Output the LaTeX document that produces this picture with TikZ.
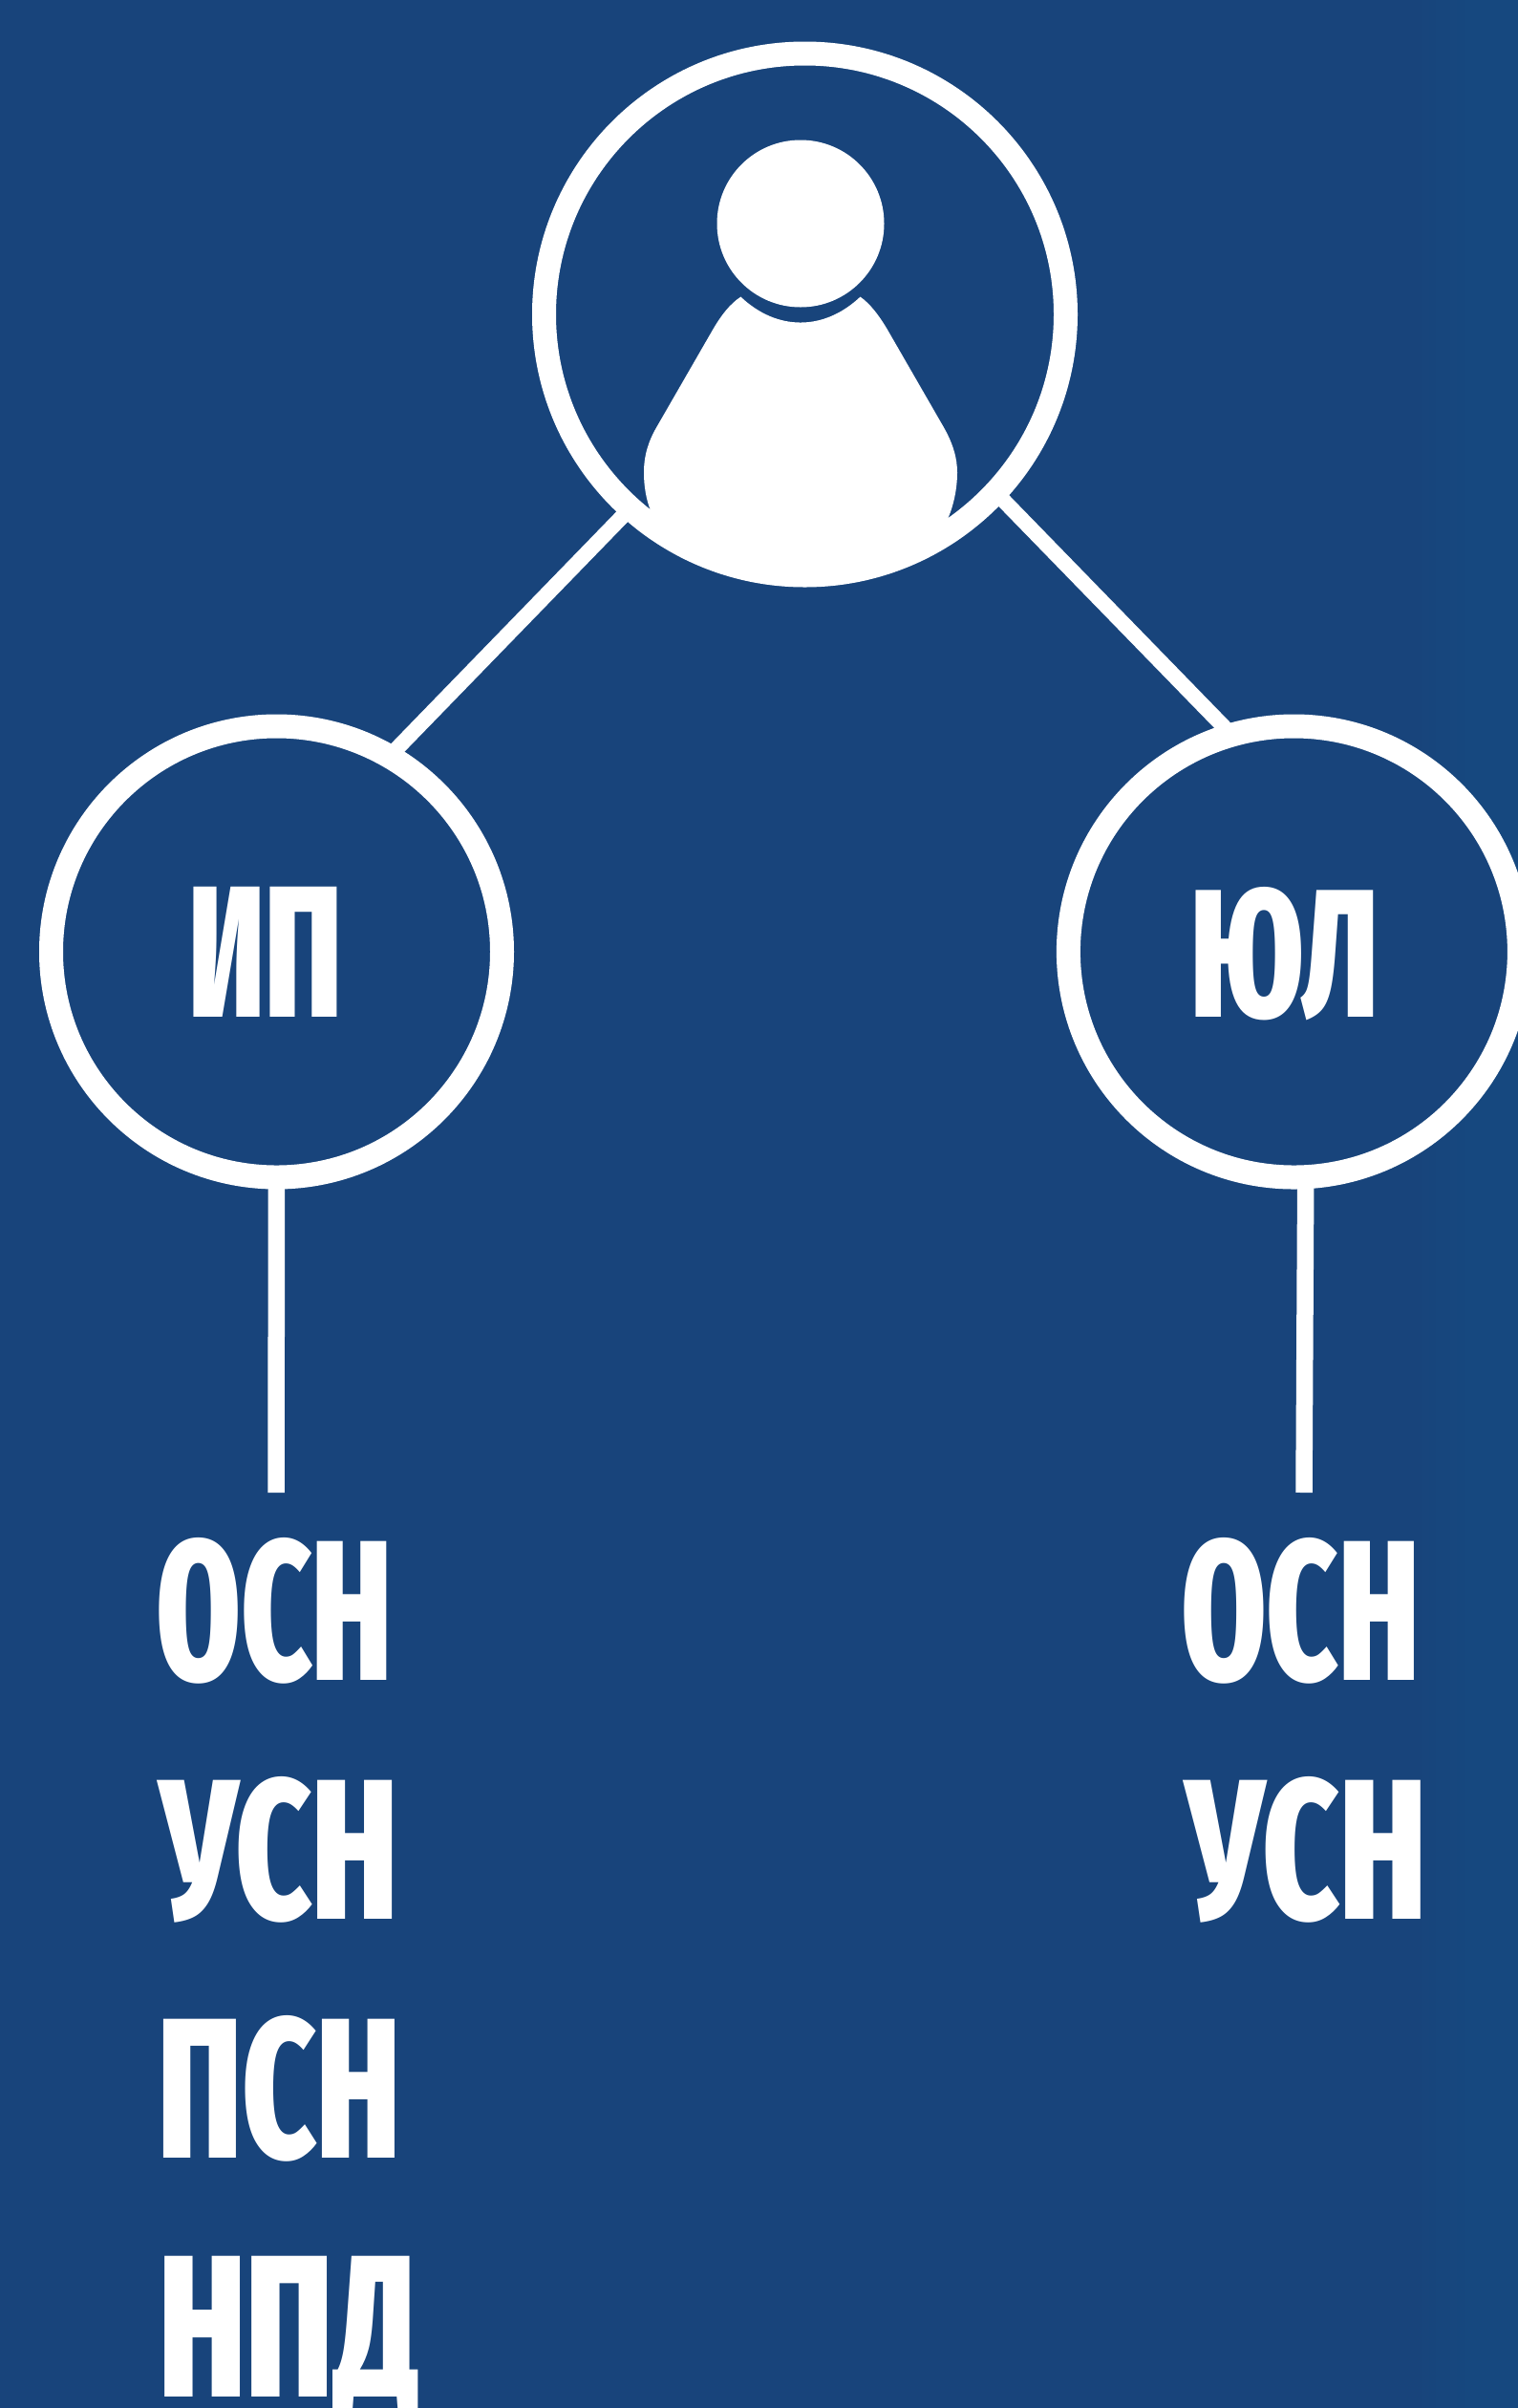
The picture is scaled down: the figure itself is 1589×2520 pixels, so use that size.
\documentclass[tikz,border=0pt]{standalone}
\usepackage{fontspec}
\usepackage{graphicx}
\newfontfamily\lblfont{Fira Sans Extra Condensed ExtraBold}
\definecolor{bgblue}{HTML}{18447B}
\definecolor{bgedge}{HTML}{16487F}
\tikzset{
  ring/.style={circle,draw=white,fill=bgblue,line width=25pt,inner sep=0pt,outer sep=0pt},
  wire/.style={draw=white,line width=17.5pt,line cap=butt},
  diag/.style={draw=white,line width=16pt,line cap=butt},
  lbl/.style={anchor=base west,inner sep=0pt,outer sep=0pt,text=white,font=\lblfont}
}
\newcommand{\fit}[3]{\resizebox{#1pt}{#2pt}{#3}}
\begin{document}
\begin{tikzpicture}[x=1pt,y=-1pt]
\path[clip] (0,0) rectangle (1589,2520);
\fill[bgblue] (0,0) rectangle (1589,2520);
\shade[left color=bgblue,right color=bgedge] (1480,0) rectangle (1540,2520);
\fill[bgedge] (1540,0) rectangle (1589,2520);
% circles
\node[ring,minimum size=546pt] (root) at (842.5,329) {};
\node[ring,minimum size=472pt] (ip) at (289.5,996) {};
\node[ring,minimum size=472pt] (jul) at (1354.4,996) {};
% connectors
\coordinate (ipend) at (289,1562);
\coordinate (julend) at (1365,1562);
\draw[diag] (root.228.8) -- (ip.60.5);
\draw[diag] (root.-43.9) -- (jul.106);
\draw[wire] (ip.-90) -- (ipend);
\draw[wire] (jul.-87.4) -- (julend);
% person icon
\begin{scope}
\clip (root.center) circle (273);
\fill[white] (775.4,310.6) .. controls (813.3,346.5) and (862.5,346.5) .. (900.5,310.6)
  .. controls (911,318) and (920,330) .. (928.4,344)
  -- (987.8,447)
  .. controls (998,465) and (1002,480) .. (1002,494.5)
  .. controls (1002,512) and (998,530) .. (991.6,544)
  -- (991.6,640) -- (681.6,640) -- (681.6,536)
  .. controls (676,522) and (674,508) .. (674,494.5)
  .. controls (674,478) and (678,463) .. (687.3,447)
  -- (746.7,344)
  .. controls (755,330) and (764,318) .. (775.4,310.6) -- cycle;
\end{scope}
\node[circle,fill=white,inner sep=0pt,outer sep=0pt,minimum size=175pt] (head) at (838,234) {};
% labels
\node[lbl] (tip) at (197,1064) {\fit{161}{136}{ИП}};
\node[lbl] (tjul) at (1246,1064) {\fit{197}{136}{ЮЛ}};
\node[lbl] (a1) at (163,1758) {\fit{248}{149}{ОСН}};
\node[lbl] (a2) at (167,2008) {\fit{250}{149}{УСН}};
\node[lbl] (a3) at (165,2258) {\fit{254}{149}{ПСН}};
\node[lbl] (a4) at (166,2508) {\fit{274}{147}{НПД}};
\node[lbl] (b1) at (1236,1758) {\fit{250}{149}{ОСН}};
\node[lbl] (b2) at (1241,2008) {\fit{252}{149}{УСН}};
\end{tikzpicture}
\end{document}
